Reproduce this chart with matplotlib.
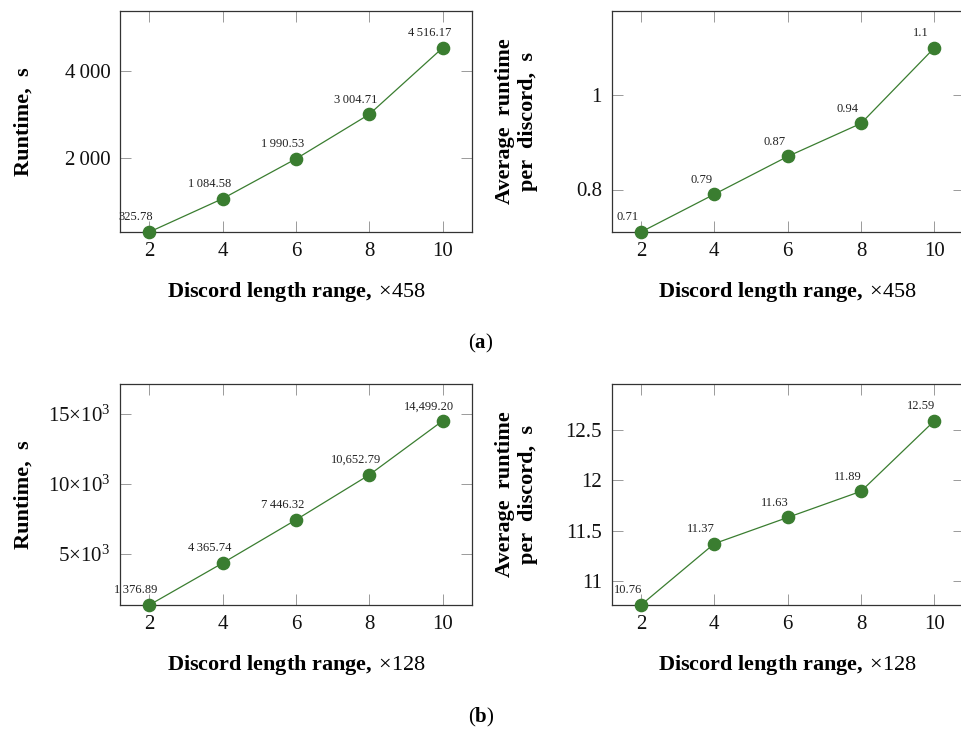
import numpy as np
import matplotlib.pyplot as plt

plt.rcParams['font.family'] = ['Liberation Serif', 'DejaVu Serif']
plt.rcParams['mathtext.fontset'] = 'custom'
plt.rcParams['mathtext.rm'] = 'Liberation Serif'
plt.rcParams['mathtext.bf'] = 'Liberation Serif:bold'
plt.rcParams['mathtext.it'] = 'Liberation Serif:italic'

# data
x = [2, 4, 6, 8, 10]

runtime_a = [325.78, 1084.58, 1990.53, 3004.71, 4516.17]
runtime_a_labels = ['325.78', '1\u2009084.58', '1\u2009990.53', '3\u2009004.71', '4\u2009516.17']
avg_a = [0.71, 0.79, 0.87, 0.94, 1.1]
avg_a_labels = ['0.71', '0.79', '0.87', '0.94', '1.1']

runtime_b = [1376.89, 4365.74, 7446.32, 10652.79, 14499.20]
runtime_b_labels = ['1\u2009376.89', '4\u2009365.74', '7\u2009446.32', '10,652.79', '14,499.20']
avg_b = [10.76, 11.37, 11.63, 11.89, 12.59]
avg_b_labels = ['10.76', '11.37', '11.63', '11.89', '12.59']

yticks_ra = [2000, 4000]
yticks_ra_lab = ['2\u2009000', '4\u2009000']
yticks_aa = [0.8, 1.0]
yticks_aa_lab = ['0.8', '1']
yticks_rb = [5000, 10000, 15000]
yticks_rb_lab = [r'$5{\times}10^3$', r'$10{\times}10^3$', r'$15{\times}10^3$']
yticks_ab = [11, 11.5, 12, 12.5]
yticks_ab_lab = ['11', '11.5', '12', '12.5']

green = '#3a7d30'

fig = plt.figure(figsize=(9.62, 7.31), dpi=100)

W = 352 / 962
H = 221 / 731
axes = [
    fig.add_axes([120 / 962, (731 - 232) / 731, W, H]),
    fig.add_axes([611.7 / 962, (731 - 232) / 731, W, H]),
    fig.add_axes([120 / 962, (731 - 605) / 731, W, H]),
    fig.add_axes([611.7 / 962, (731 - 605) / 731, W, H]),
]

panels = [
    (runtime_a, runtime_a_labels, yticks_ra, yticks_ra_lab, 'Runtime,  s', '458'),
    (avg_a, avg_a_labels, yticks_aa, yticks_aa_lab, 'Average  runtime\nper  discord,  s', '458'),
    (runtime_b, runtime_b_labels, yticks_rb, yticks_rb_lab, 'Runtime,  s', '128'),
    (avg_b, avg_b_labels, yticks_ab, yticks_ab_lab, 'Average  runtime\nper  discord,  s', '128'),
]

for i, (ax, (y, labs, yt, ytl, ylab, mult)) in enumerate(zip(axes, panels)):
    ax.plot(x, y, color=green, lw=0.9, marker='o', ms=8.8, clip_on=False, zorder=3)
    for xi, yi, s in zip(x, y, labs):
        ax.annotate(s, (xi, yi), xytext=(-9.5, 10.5), textcoords='offset points',
                    ha='center', va='center', fontsize=9, color='#222222',
                    annotation_clip=False, zorder=4)
    rng = max(y) - min(y)
    ax.set_xlim(1.2, 10.8)
    ax.set_ylim(min(y), max(y) + 0.2 * rng)
    ax.set_xticks(x)
    ax.set_xticklabels([str(v) for v in x])
    ax.set_yticks(yt)
    ax.set_yticklabels(ytl)
    ax.tick_params(direction='in', length=8, width=0.7, color='#9a9a9a',
                   top=True, right=True, labelsize=15, pad=7, labelcolor='#111111')
    for sp in ax.spines.values():
        sp.set_color('#333333')
        sp.set_linewidth(0.9)
    ax.set_xlabel(r'$\mathbf{Discord\ length\ range,}$' + '\u2009×' + mult, fontsize=16, labelpad=14)
    ax.set_ylabel(ylab, fontsize=16, fontweight='bold', linespacing=1.2)
    if i % 2 == 0:
        ax.yaxis.set_label_coords(-0.245, 0.5)
    else:
        ax.yaxis.set_label_coords(-0.21, 0.5)

fig.text(481 / 962, 1 - 343 / 731, r'($\mathbf{a}$)', ha='center', va='center', fontsize=15)
fig.text(481 / 962, 1 - 717 / 731, r'($\mathbf{b}$)', ha='center', va='center', fontsize=15)

plt.savefig('out.png', dpi=100)
